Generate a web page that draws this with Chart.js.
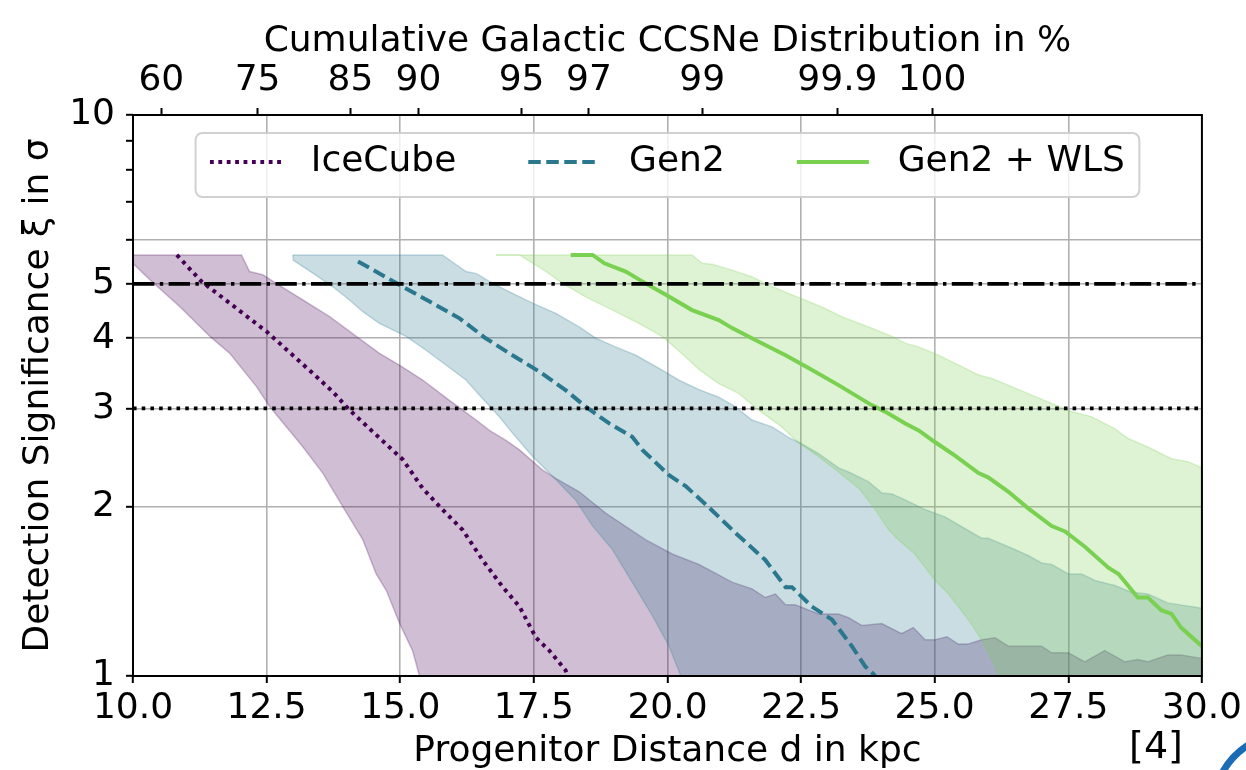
<!DOCTYPE html>
<html><head><meta charset="utf-8">
<script src="https://cdn.jsdelivr.net/npm/chart.js@4.4.1/dist/chart.umd.min.js"></script>
<style>html,body{margin:0;padding:0;background:#fff;}#wrap{width:1246px;height:770px;position:relative;}</style>
</head><body><div id="wrap"><canvas id="c" width="1246" height="770"></canvas></div>
<script>
// ---------- values ----------
const xTicks = [10, 12.5, 15, 17.5, 20, 22.5, 25, 27.5, 30];
const yTicks = [1, 2, 3, 4, 5, 6, 7, 8, 9, 10];
const yTickLabels = ['1', '2', '3', '4', '5', '', '', '', '', '10'];
const yGridShown = [2, 3, 4, 5, 6];
const topTickPositions = [10.53, 12.33, 14.07, 15.34, 17.27, 18.53, 20.65, 23.18, 24.95];
const topTickLabels = ['60', '75', '85', '90', '95', '97', '99', '99.9', '100'];
const seriesNames = ['IceCube', 'Gen2', 'Gen2 + WLS'];
const sigmaLevels = [5, 3];

const iceCubeMedian = [[10.82,5.63],[11.28,5.05],[11.81,4.62],[12.5,4.11],[12.99,3.73],[13.37,3.46],[13.74,3.21],[14.05,2.98],[14.55,2.69],[15.05,2.43],[15.42,2.16],[15.79,1.98],[16.17,1.82],[16.54,1.61],[16.92,1.44],[17.23,1.33],[17.54,1.17],[17.79,1.11],[18.09,1.025],[18.14,1.0]];
const iceCubeUpper = [[10.0,5.63],[12.03,5.63],[12.18,5.26],[12.43,5.19],[12.68,5.01],[13.18,4.68],[13.68,4.37],[14.18,4.03],[14.61,3.76],[14.99,3.58],[15.42,3.37],[15.92,3.10],[16.42,2.86],[16.67,2.74],[16.98,2.63],[17.23,2.53],[17.66,2.33],[17.91,2.25],[18.35,2.13],[18.85,1.95],[19.59,1.75],[20.09,1.65],[20.59,1.58],[21.21,1.47],[21.58,1.43],[21.83,1.38],[22.02,1.40],[22.21,1.34],[22.39,1.34],[22.83,1.29],[23.2,1.29],[23.39,1.27],[23.64,1.23],[24.01,1.24],[24.38,1.19],[24.6,1.22],[24.82,1.16],[25.01,1.16],[25.23,1.175],[25.44,1.14],[25.63,1.14],[25.88,1.16],[26.13,1.17],[26.38,1.13],[26.63,1.13],[27.0,1.13],[27.19,1.10],[27.5,1.10],[27.81,1.06],[28.18,1.11],[28.56,1.06],[28.8,1.07],[28.99,1.06],[29.36,1.09],[29.61,1.09],[30.0,1.075]];
const iceCubeLower = [[10.0,5.44],[10.32,5.08],[10.88,4.55],[11.44,4.03],[11.81,3.76],[12.31,3.28],[12.56,3.02],[13.18,2.56],[13.55,2.30],[13.93,2.0],[14.3,1.75],[14.55,1.52],[14.74,1.42],[14.99,1.24],[15.23,1.11],[15.36,1.0],[15.5,0.9],[30.0,0.5]];

const gen2Median = [[14.21,5.48],[14.61,5.22],[15.05,4.94],[15.55,4.65],[16.11,4.34],[16.6,4.0],[17.1,3.73],[17.6,3.49],[18.1,3.23],[18.47,3.02],[18.91,2.82],[19.34,2.67],[19.53,2.53],[20.03,2.28],[20.34,2.18],[20.77,2.0],[21.27,1.80],[21.83,1.61],[22.21,1.44],[22.33,1.44],[22.7,1.33],[23.08,1.26],[23.45,1.13],[23.7,1.04],[23.89,1.0]];
const gen2Upper = [[12.99,5.63],[15.79,5.63],[16.23,5.26],[16.42,5.22],[16.73,5.01],[17.1,4.81],[17.48,4.62],[17.91,4.43],[18.35,4.19],[18.66,4.0],[19.03,3.86],[19.41,3.73],[19.9,3.51],[20.21,3.37],[20.59,3.24],[20.96,3.14],[21.27,3.02],[21.58,2.86],[21.96,2.78],[22.27,2.66],[22.46,2.61],[22.83,2.49],[23.2,2.35],[23.39,2.31],[23.76,2.22],[24.01,2.12],[24.2,2.11],[24.45,2.06],[24.82,1.98],[25.2,1.92],[25.57,1.83],[25.88,1.76],[26.0,1.76],[26.38,1.70],[26.75,1.64],[27.0,1.59],[27.19,1.58],[27.5,1.52],[27.75,1.52],[28.0,1.48],[28.37,1.45],[28.68,1.41],[28.99,1.40],[29.36,1.35],[30.0,1.32]];
const gen2Lower = [[12.99,5.63],[13.0,5.51],[13.37,5.22],[13.74,4.94],[14.05,4.68],[14.3,4.46],[14.61,4.25],[15.11,4.03],[15.48,3.81],[15.86,3.58],[16.23,3.37],[16.48,3.17],[16.85,2.90],[17.1,2.71],[17.48,2.46],[17.85,2.27],[18.28,2.06],[18.6,1.85],[18.97,1.68],[19.34,1.47],[19.72,1.28],[20.03,1.13],[20.25,1.0],[20.4,0.9],[30.0,0.5]];

const gen2WlsMedian = [[18.19,5.63],[18.6,5.63],[18.82,5.44],[19.22,5.26],[19.59,5.01],[19.97,4.78],[20.46,4.49],[20.96,4.31],[21.21,4.17],[21.58,4.0],[22.21,3.73],[22.64,3.54],[23.2,3.30],[23.82,3.04],[24.07,2.96],[24.45,2.82],[24.7,2.74],[25.01,2.61],[25.38,2.47],[25.82,2.30],[26.0,2.26],[26.38,2.13],[26.75,1.99],[27.19,1.85],[27.44,1.81],[27.81,1.70],[28.25,1.56],[28.44,1.52],[28.8,1.38],[28.99,1.38],[29.24,1.31],[29.43,1.29],[29.61,1.22],[30.0,1.13]];
const gen2WlsUpper = [[16.79,5.63],[20.46,5.63],[20.65,5.44],[20.84,5.42],[21.21,5.29],[21.58,5.15],[21.83,5.01],[22.33,4.78],[22.64,4.65],[22.95,4.52],[23.26,4.37],[23.51,4.28],[23.82,4.17],[24.2,4.03],[24.45,3.92],[24.7,3.86],[25.07,3.73],[25.51,3.56],[25.82,3.44],[26.07,3.39],[26.44,3.28],[26.81,3.17],[27.19,3.06],[27.56,2.96],[27.93,2.90],[28.37,2.76],[28.62,2.65],[28.99,2.56],[29.43,2.44],[29.74,2.41],[30.0,2.35]];
const gen2WlsLower = [[16.79,5.63],[17.23,5.63],[17.73,5.26],[18.04,5.01],[18.47,4.74],[18.97,4.49],[19.47,4.25],[19.9,4.03],[20.21,3.80],[20.59,3.52],[20.96,3.32],[21.33,3.19],[21.7,2.98],[22.14,2.78],[22.46,2.60],[22.83,2.46],[23.2,2.31],[23.58,2.16],[23.89,1.98],[24.14,1.82],[24.32,1.75],[24.63,1.65],[25.01,1.48],[25.26,1.40],[25.63,1.26],[25.88,1.16],[26.13,1.04],[26.19,1.0],[26.3,0.9],[30.0,0.5]];

// ---------- styling ----------
const FONT = 'DejaVu Sans';
const FS = 36;
const LW = 4;
const HLW = 3.6;
const purple = '#440154', teal = '#2a788e', green = '#7ad151';
const bandAlpha = 0.25;
function rgba(hex, a) {
  const n = parseInt(hex.slice(1), 16);
  return `rgba(${(n >> 16) & 255},${(n >> 8) & 255},${n & 255},${a})`;
}
const xy = arr => arr.map(([x, y]) => ({x, y}));
const hline = (v) => [{x: xTicks[0], y: v}, {x: xTicks[xTicks.length - 1], y: v}];

function edge(data, color, order, fill) {
  return {data: xy(data), borderColor: rgba(color, bandAlpha), backgroundColor: rgba(color, bandAlpha),
    borderWidth: 1.5, pointRadius: 0, fill: fill, order: order, tension: 0};
}

const datasets = [
  {label: '5 sigma', data: hline(sigmaLevels[0]), borderColor: '#000', borderWidth: HLW,
   borderDash: [21.4, 5.4, 3.4, 5.4], pointRadius: 0, fill: false, order: 0},
  {label: '3 sigma', data: hline(sigmaLevels[1]), borderColor: '#000', borderWidth: HLW,
   borderDash: [3.6, 5.1], pointRadius: 0, fill: false, order: 0},
  {label: seriesNames[0], data: xy(iceCubeMedian), borderColor: purple, borderWidth: LW,
   borderDash: [3.8, 4.6], pointRadius: 0, fill: false, order: 1},
  {label: seriesNames[1], data: xy(gen2Median), borderColor: teal, borderWidth: LW,
   borderDash: [12.5, 5.5], pointRadius: 0, fill: false, order: 1},
  {label: seriesNames[2], data: xy(gen2WlsMedian), borderColor: green, borderWidth: LW,
   pointRadius: 0, fill: false, order: 1},
  edge(gen2WlsLower, green, 2, false),   // 5
  edge(gen2WlsUpper, green, 2, 5),       // 6
  edge(gen2Lower, teal, 3, false),       // 7
  edge(gen2Upper, teal, 3, 7),           // 8
  edge(iceCubeLower, purple, 4, false),  // 9
  edge(iceCubeUpper, purple, 4, 9)       // 10
];
const legendIdx = [2, 3, 4];

const framePlugin = {
  id: 'frame',
  afterDatasetsDraw(chart) {
    const {ctx, chartArea: a} = chart;
    ctx.save();
    ctx.strokeStyle = '#000';
    ctx.lineWidth = 2;
    ctx.strokeRect(a.left, a.top, a.right - a.left, a.bottom - a.top);
    ctx.restore();
  }
};

const legendPlugin = {
  id: 'mplLegend',
  afterDraw(chart) {
    const {ctx, chartArea: a} = chart;
    ctx.save();
    ctx.font = `${FS}px "${FONT}"`;
    const pad = 0.4 * FS, handle = 2 * FS, textPad = 0.8 * FS, colSp = 2 * FS;
    const items = legendIdx.map(i => chart.data.datasets[i]);
    let w = pad * 2;
    items.forEach((d, i) => { w += handle + textPad + ctx.measureText(d.label).width + (i ? colSp : 0); });
    const h = 64;
    const x0 = (a.left + a.right) / 2 - w / 2;
    const y0 = a.top + 18;
    const r = 7;
    ctx.beginPath();
    ctx.moveTo(x0 + r, y0);
    ctx.arcTo(x0 + w, y0, x0 + w, y0 + h, r);
    ctx.arcTo(x0 + w, y0 + h, x0, y0 + h, r);
    ctx.arcTo(x0, y0 + h, x0, y0, r);
    ctx.arcTo(x0, y0, x0 + w, y0, r);
    ctx.closePath();
    ctx.fillStyle = 'rgba(255,255,255,0.8)';
    ctx.fill();
    ctx.strokeStyle = 'rgba(204,204,204,0.9)';
    ctx.lineWidth = 2;
    ctx.stroke();
    let x = x0 + pad;
    const yc = y0 + 29;
    items.forEach(d => {
      ctx.beginPath();
      ctx.setLineDash(d.borderDash || []);
      ctx.strokeStyle = d.borderColor;
      ctx.lineWidth = d.borderWidth;
      ctx.moveTo(x, yc);
      ctx.lineTo(x + handle, yc);
      ctx.stroke();
      ctx.setLineDash([]);
      x += handle + textPad;
      ctx.fillStyle = '#000';
      ctx.textBaseline = 'middle';
      ctx.textAlign = 'left';
      ctx.fillText(d.label, x, yc);
      x += ctx.measureText(d.label).width + colSp;
    });
    ctx.restore();
  }
};

const footerPlugin = {
  id: 'footer',
  afterDraw(chart) {
    const {ctx} = chart;
    ctx.save();
    ctx.font = `38px "${FONT}"`;
    ctx.fillStyle = '#000';
    ctx.textAlign = 'center';
    ctx.textBaseline = 'middle';
    ctx.fillText('[4]', 1156, 748);
    ctx.beginPath();
    ctx.strokeStyle = '#1a6cb5';
    ctx.lineWidth = 7;
    ctx.arc(1292, 812, 80, Math.PI * 1.13, Math.PI * 1.32);
    ctx.stroke();
    ctx.restore();
  }
};

Chart.defaults.color = '#000';
Chart.defaults.font.family = FONT;

new Chart(document.getElementById('c'), {
  type: 'line',
  data: {datasets},
  options: {
    responsive: false,
    animation: false,
    devicePixelRatio: 1,
    layout: {padding: {left: 0, right: 42, top: 0, bottom: 0}},
    plugins: {legend: {display: false}, tooltip: {enabled: false}},
    elements: {line: {tension: 0}, point: {radius: 0}},
    scales: {
      x: {
        type: 'linear', position: 'bottom', min: xTicks[0], max: xTicks[xTicks.length - 1],
        afterBuildTicks: s => { s.ticks = xTicks.map(v => ({value: v})); },
        afterFit: s => { s.height = 94; },
        ticks: {autoSkip: false, maxRotation: 0, padding: 4, font: {size: FS}, color: '#000',
          callback: v => Number(v).toFixed(1)},
        grid: {color: c => (c.tick && (c.tick.value === 10 || c.tick.value === 30)) ? 'rgba(0,0,0,0)' : '#b0b0b0',
          lineWidth: 1.6, tickLength: 7, tickColor: '#000', tickWidth: 2},
        border: {display: false},
        title: {display: true, text: 'Progenitor Distance d in kpc', font: {size: FS, lineHeight: 1.0}, padding: {top: 0, bottom: 0}}
      },
      x2: {
        type: 'linear', position: 'top', min: xTicks[0], max: xTicks[xTicks.length - 1],
        afterBuildTicks: s => { s.ticks = topTickPositions.map(v => ({value: v})); },
        afterFit: s => { s.height = 115; },
        ticks: {autoSkip: false, maxRotation: 0, padding: 6, font: {size: FS}, color: '#000',
          callback: (v, i) => topTickLabels[i]},
        grid: {drawOnChartArea: false, tickLength: 7, tickColor: '#000', tickWidth: 2},
        border: {display: false},
        title: {display: true, text: 'Cumulative Galactic CCSNe Distribution in %', font: {size: FS, lineHeight: 1.0}, padding: {top: 24, bottom: 0}}
      },
      y: {
        type: 'logarithmic', position: 'left', min: yTicks[0], max: yTicks[yTicks.length - 1],
        afterBuildTicks: s => { s.ticks = yTicks.map(v => ({value: v})); },
        afterFit: s => { s.width = 133; },
        ticks: {autoSkip: false, padding: 11, font: {size: FS}, color: '#000',
          callback: (v, i) => yTickLabels[i]},
        grid: {color: c => (c.tick && yGridShown.includes(c.tick.value)) ? '#b0b0b0' : 'rgba(0,0,0,0)',
          lineWidth: 1.6, tickLength: 7, tickColor: '#000', tickWidth: 2},
        border: {display: false},
        title: {display: true, text: 'Detection Significance ξ in σ', font: {size: FS, lineHeight: 1.0}, padding: {top: 21, bottom: 0}}
      }
    }
  },
  plugins: [framePlugin, legendPlugin, footerPlugin]
});
</script></body></html>
